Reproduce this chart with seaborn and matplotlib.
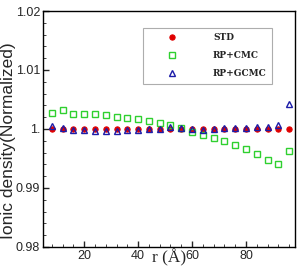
import numpy as np
import pandas as pd
import matplotlib
matplotlib.use("Agg")
import matplotlib.pyplot as plt
import seaborn as sns
from matplotlib.ticker import MultipleLocator, FixedLocator, FixedFormatter

# --- data ---
r = [8, 12, 16, 20, 24, 28, 32, 36, 40, 44, 48, 52, 56, 60, 64, 68, 72, 76, 80, 84, 88, 92, 96]
std = [1.0000] * 23
rp_cmc = [1.0027, 1.0032, 1.0026, 1.0026, 1.0025, 1.0023, 1.0020, 1.0018, 1.00175, 1.0013,
          1.0010, 1.0006, 1.0002, 0.9995, 0.9990, 0.9985, 0.9979, 0.9972, 0.9966, 0.9957,
          0.9948, 0.9940, 0.9963]
rp_gcmc = [1.0005, 1.0002, 0.9999, 0.9999, 0.9997, 0.9996, 0.9997, 0.9999, 0.9999, 1.0000,
           1.0000, 1.0004, 1.0002, 1.0000, 0.9999, 1.0000, 1.0001, 1.0002, 1.0001, 1.0003,
           1.0004, 1.0007, 1.0042]
y_ticks = [0.98, 0.99, 1.0, 1.01, 1.02]
y_ticklabels = ["0.98", "0.99", "1.", "1.01", "1.02"]

df = pd.DataFrame({'r': r, 'STD': std, 'RP+CMC': rp_cmc, 'RP+GCMC': rp_gcmc})

sns.set_style("ticks")
plt.rcParams['font.family'] = ['Liberation Sans', 'DejaVu Sans']

fig = plt.figure(figsize=(3.07, 2.75), dpi=100)
ax = fig.add_axes([0.140, 0.102, 0.821, 0.858])

sns.lineplot(x='r', y='STD', data=df, ax=ax, marker='o', linestyle='', markersize=3.8,
             color='#e00000', markeredgecolor='#e00000', label='STD')
sns.lineplot(x='r', y='RP+CMC', data=df, ax=ax, marker='s', linestyle='', markersize=3.8,
             color='#2fd02f', markerfacecolor='none', markeredgecolor='#2fd02f',
             markeredgewidth=1.0, label='RP+CMC')
sns.lineplot(x='r', y='RP+GCMC', data=df, ax=ax, marker='^', linestyle='', markersize=5,
             color='#1c1ca8', markerfacecolor='none', markeredgecolor='#1c1ca8',
             markeredgewidth=1.0, label='RP+GCMC')

ax.set_xlim(4.7, 98.2)
ax.set_ylim(0.98, 1.02)
ax.xaxis.set_major_locator(MultipleLocator(20))
ax.xaxis.set_minor_locator(MultipleLocator(4))
ax.yaxis.set_major_locator(FixedLocator(y_ticks))
ax.yaxis.set_major_formatter(FixedFormatter(y_ticklabels))
ax.yaxis.set_minor_locator(MultipleLocator(0.002))
ax.tick_params(which='both', direction='in', top=False, right=False, labelsize=9, pad=2)
ax.tick_params(which='major', length=4, width=1)
ax.tick_params(which='minor', length=2, width=0.6)
for s in ax.spines.values():
    s.set_linewidth(1.0)
    s.set_color('black')

ax.set_ylabel('Ionic density(Normalized)', fontsize=12.5)
ax.yaxis.set_label_coords(-0.108, 0.45)
ax.set_xlabel('r (Å)', fontsize=12.5, family=['Liberation Serif', 'DejaVu Serif'], labelpad=-9)

leg = ax.legend(loc='upper right', bbox_to_anchor=(0.909, 0.928), borderaxespad=0,
                fancybox=False, frameon=True, edgecolor='#999999', numpoints=1,
                handlelength=5.2, handletextpad=1.9, borderpad=0.6, labelspacing=1.0,
                prop={'family': ['DejaVu Serif'], 'weight': 'bold', 'size': 6.5})
leg.get_frame().set_linewidth(0.8)

fig.savefig('out.png', dpi=100)
